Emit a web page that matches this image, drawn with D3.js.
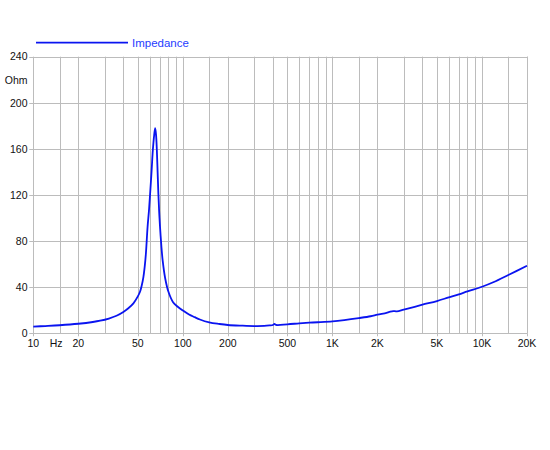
<html>
  <head>
    <meta charset="utf-8" />
    <title>Impedance</title>
    <script src="https://d3js.org/d3.v7.min.js"></script>
    <style>
      body { margin: 0; background: #fff; }
      text { font-family: "Liberation Sans", Arial, sans-serif; }
    </style>
  </head>
  <body>
    <div id="chart"></div>
    <script type="text/javascript">
      // impedance curve
      var freqHz = [10, 12, 15, 20, 25, 28, 32, 36, 40, 43, 46.7, 50, 51.7, 53,
        54.5, 55.6, 56.6, 58.1, 59.3, 60.4, 61.8, 63, 64.3, 65.3, 66.2, 67,
        67.8, 68.6, 69.4, 70.3, 71.8, 73.3, 76.1, 80.1, 86, 92, 100, 110, 120, 130,
        150, 175, 200, 250, 300, 350, 380, 400, 410, 420, 500, 600, 700, 800,
        1000, 1200, 1500, 1800, 2000, 2300, 2400, 2550, 2700, 3000, 4000, 5000,
        6000, 7000, 8000, 10000, 12000, 15000, 20000];
      var impedanceOhm = [5.8, 6.3, 7.0, 8.3, 9.8, 10.9, 12.8, 15.2, 18.5, 21.5,
        26, 32, 36, 41, 49, 58, 69, 92.5, 106, 121, 141, 159, 172, 178, 172, 159,
        140, 121, 106, 93, 76, 63, 48, 36, 27, 23.3, 19.8, 16.3, 14, 12, 9.5, 8.1,
        7.2, 6.6, 6.3, 6.4, 6.8, 7.2, 8.2, 7.3, 7.8, 8.6, 9.2, 9.6, 10.4, 11.5,
        13.2, 14.8, 16.2, 17.8, 18.5, 19.3, 19.0, 20.5, 24.8, 28, 31.2, 33.8,
        36.4, 40.4, 44.5, 50.6, 58.6];

      var yTicks = [0, 40, 80, 120, 160, 200, 240];
      var xTickValues = [10, 20, 50, 100, 200, 500, 1000, 2000, 5000, 10000, 20000];
      var xTickLabels = ["10", "20", "50", "100", "200", "500", "1K", "2K", "5K", "10K", "20K"];
      var seriesName = "Impedance";
      var yUnit = "Ohm";
      var xUnit = "Hz";

      var width = 550;
      var height = 450;
      var margin = { left: 33.3, right: 23, top: 56.7, bottom: 116.7 };

      var svg = d3
        .select("#chart")
        .append("svg")
        .attr("width", width)
        .attr("height", height);

      var x = d3.scaleLog()
        .domain([10, 20000])
        .range([margin.left, width - margin.right]);
      var y = d3.scaleLinear()
        .domain([0, 240])
        .range([height - margin.bottom, margin.top]);

      // grid: 1..9 per decade plus the 1.5 lines
      var gridFreqs = [];
      for (var dec = 10; dec < 20000; dec *= 10) {
        for (var m = 1; m < 10; m++) {
          var f = dec * m;
          if (f <= 20000) gridFreqs.push(f);
        }
      }
      gridFreqs.push(15, 150, 1500, 15000);
      gridFreqs.push(20000);

      svg.append("g")
        .selectAll("line")
        .data(gridFreqs)
        .enter()
        .append("line")
        .attr("x1", function (d) { return Math.round(x(d)) + 0.5; })
        .attr("x2", function (d) { return Math.round(x(d)) + 0.5; })
        .attr("y1", y(240))
        .attr("y2", y(0))
        .attr("stroke", "#bcbcbc")
        .attr("stroke-width", 1);

      svg.append("g")
        .selectAll("line")
        .data(yTicks)
        .enter()
        .append("line")
        .attr("x1", x(10) - 4)
        .attr("x2", x(20000))
        .attr("y1", function (d) { return Math.round(y(d)) + 0.5; })
        .attr("y2", function (d) { return Math.round(y(d)) + 0.5; })
        .attr("stroke", "#bcbcbc")
        .attr("stroke-width", 1);

      // major ticks below the axis
      svg.append("g")
        .selectAll("line")
        .data(xTickValues)
        .enter()
        .append("line")
        .attr("x1", function (d) { return Math.round(x(d)) + 0.5; })
        .attr("x2", function (d) { return Math.round(x(d)) + 0.5; })
        .attr("y1", y(0))
        .attr("y2", y(0) + 3)
        .attr("stroke", "#bcbcbc");

      // y labels
      svg.append("g")
        .selectAll("text")
        .data(yTicks)
        .enter()
        .append("text")
        .attr("x", 27.5)
        .attr("y", function (d) { return y(d); })
        .attr("dy", "0.36em")
        .attr("text-anchor", "end")
        .attr("font-size", "10.5px")
        .attr("fill", "#111")
        .text(function (d) { return d; });

      svg.append("text")
        .attr("x", 27.5)
        .attr("y", y(220))
        .attr("dy", "0.36em")
        .attr("text-anchor", "end")
        .attr("font-size", "10.5px")
        .attr("fill", "#111")
        .text(yUnit);

      // x labels
      svg.append("g")
        .selectAll("text")
        .data(xTickValues)
        .enter()
        .append("text")
        .attr("x", function (d) { return x(d); })
        .attr("y", y(0) + 14)
        .attr("text-anchor", "middle")
        .attr("font-size", "10.5px")
        .attr("fill", "#111")
        .text(function (d, i) { return xTickLabels[i]; });

      svg.append("text")
        .attr("x", x(15) - 3.5)
        .attr("y", y(0) + 14)
        .attr("text-anchor", "middle")
        .attr("font-size", "10.5px")
        .attr("fill", "#111")
        .text(xUnit);

      // curve
      var points = freqHz.map(function (f, i) {
        return { f: f, z: impedanceOhm[i] };
      });
      var line = d3.line()
        .x(function (d) { return x(d.f); })
        .y(function (d) { return y(d.z); })
        .curve(d3.curveCatmullRom.alpha(0.5));

      svg.append("path")
        .datum(points)
        .attr("d", line)
        .attr("fill", "none")
        .attr("stroke", "#0a14f0")
        .attr("stroke-width", 1.8)
        .attr("stroke-linejoin", "round");

      // legend
      svg.append("line")
        .attr("x1", 36)
        .attr("x2", 128)
        .attr("y1", 42.7)
        .attr("y2", 42.7)
        .attr("stroke", "#0a14f0")
        .attr("stroke-width", 1.8);

      svg.append("text")
        .attr("x", 132)
        .attr("y", 42.7)
        .attr("dy", "0.36em")
        .attr("font-size", "11.5px")
        .attr("fill", "#1e3cff")
        .text(seriesName);
    </script>
  </body>
</html>
